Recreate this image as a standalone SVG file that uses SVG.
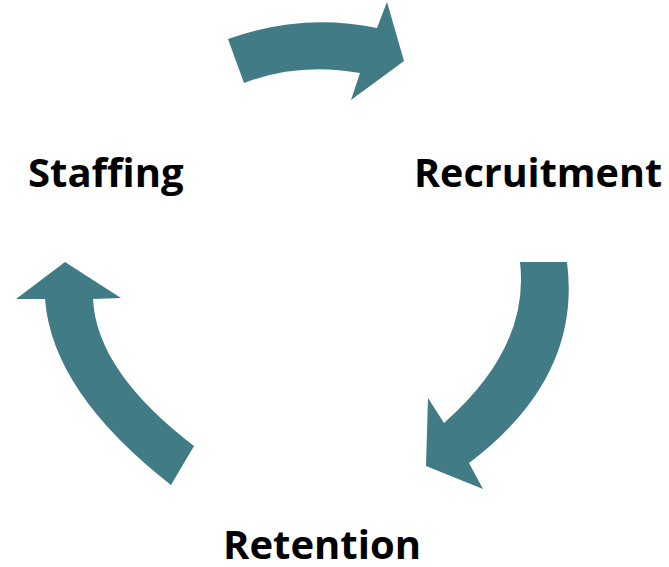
<svg xmlns="http://www.w3.org/2000/svg" width="669" height="567" viewBox="0 0 669 567">
<style>
.arrow{fill:#417B85;stroke:none}
.label{font-family:"Open Sans","Liberation Sans",sans-serif;font-weight:bold;font-size:40px;fill:#000}
</style>
<rect width="669" height="567" fill="#fff"/>
<g id="connectors">
<path id="arrow-top" class="arrow" d="M228,39 Q301.5,12.5 377,28 L387,2 L404,61 L351,100 L360,73 Q298,62 244,83 Z"/>
<path id="arrow-right" class="arrow" d="M567,262 Q582,377.5 469,463 L483,489 L426,466 L428,398 L444,423 Q530,347.5 520,262 Z"/>
<path id="arrow-left" class="arrow" d="M171,485 Q52,392 45,299 L16,299 L65,262 L121,298 L93,299 Q96.5,371.5 194,446 Z"/>
</g>
<g id="node-staffing"><text class="label" x="28" y="187">Staffing</text></g>
<g id="node-recruitment"><text class="label" x="414" y="187" style="font-size:39.5px">Recruitment</text></g>
<g id="node-retention"><text class="label" x="223" y="559">Retention</text></g>
</svg>
